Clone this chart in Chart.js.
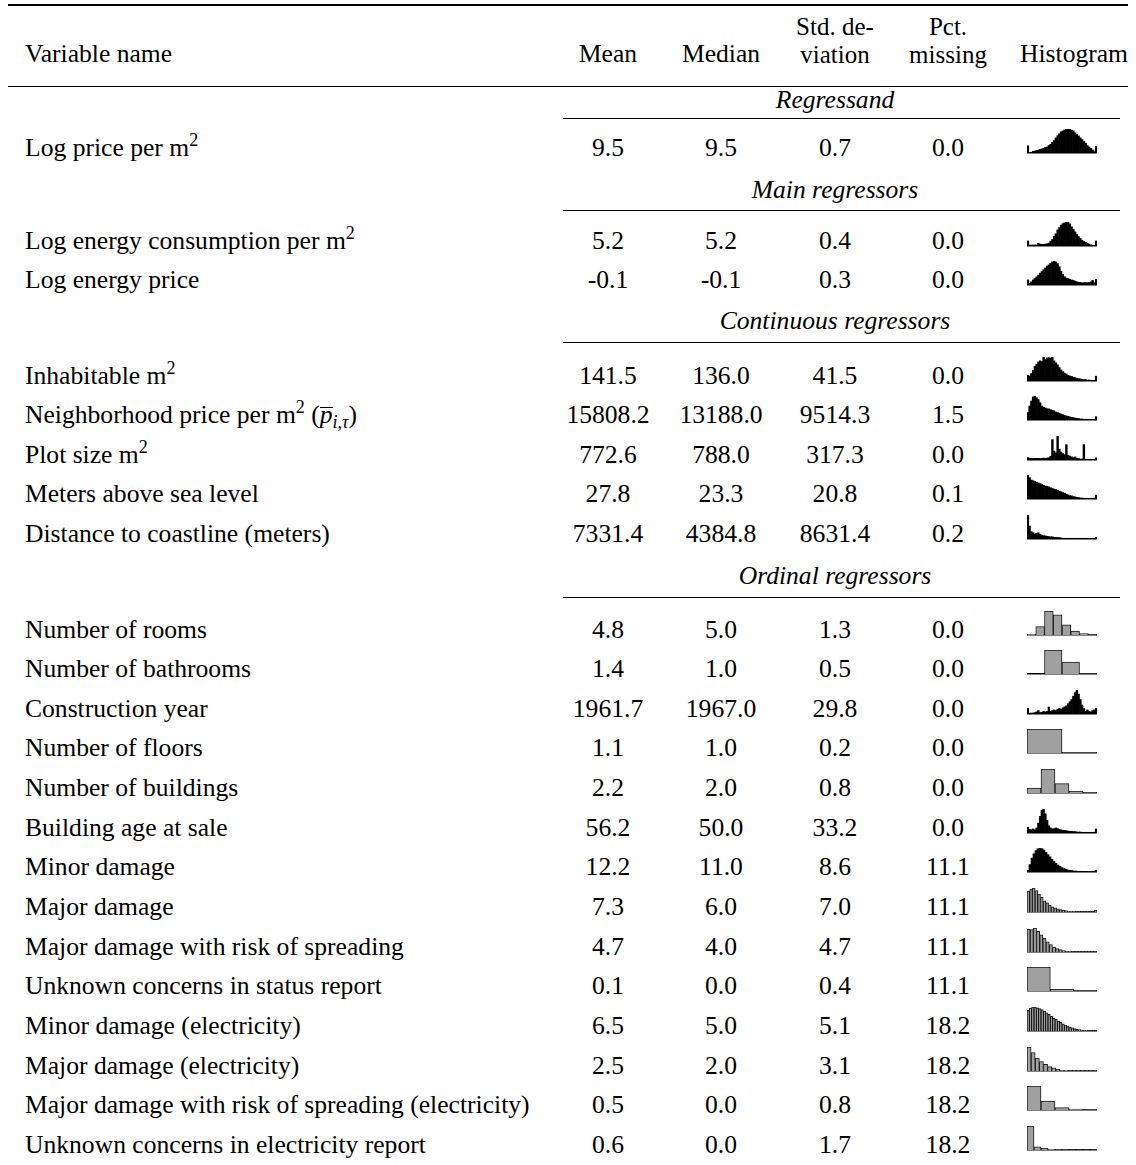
<!DOCTYPE html>
<html>
<head>
<meta charset="utf-8">
<script src="https://cdn.jsdelivr.net/npm/chart.js@4.4.0/dist/chart.umd.min.js"></script>
<style>
  body { margin: 0; background: #fff; width: 1136px; height: 1165px; overflow: hidden; position: relative;
         font-family: "Liberation Serif", "Times New Roman", serif; font-size: 25.6px; color: #000; }
  .t { position: absolute; line-height: 24px; white-space: nowrap; }
  .c { transform: translateX(-50%); text-align: center; }
  .two { line-height: 28px; font-size: 25px; }
  .grp { font-style: italic; }
  .rule { position: absolute; background: #000; }
  sup { font-size: 18px; vertical-align: 10px; line-height: 0; }
  .pbar { display: inline-block; font-style: italic; border-top: 1.3px solid #000; line-height: 14px; }
  .sub { font-size: 18px; font-style: italic; vertical-align: -5px; line-height: 0; }
</style>
</head>
<body>
<script>
// table content
const groupNames = ['Regressand', 'Main regressors', 'Continuous regressors', 'Ordinal regressors'];
const groupSizes = [1, 2, 5, 14];

const varNames = [
  'Log price per m<sup>2</sup>',
  'Log energy consumption per m<sup>2</sup>',
  'Log energy price',
  'Inhabitable m<sup>2</sup>',
  'Neighborhood price per m<sup>2</sup> (<span class="pbar">p</span><span class="sub">i,τ</span>)',
  'Plot size m<sup>2</sup>',
  'Meters above sea level',
  'Distance to coastline (meters)',
  'Number of rooms',
  'Number of bathrooms',
  'Construction year',
  'Number of floors',
  'Number of buildings',
  'Building age at sale',
  'Minor damage',
  'Major damage',
  'Major damage with risk of spreading',
  'Unknown concerns in status report',
  'Minor damage (electricity)',
  'Major damage (electricity)',
  'Major damage with risk of spreading (electricity)',
  'Unknown concerns in electricity report'
];
const means   = [9.5, 5.2, -0.1, 141.5, 15808.2, 772.6, 27.8, 7331.4, 4.8, 1.4, 1961.7, 1.1, 2.2, 56.2, 12.2, 7.3, 4.7, 0.1, 6.5, 2.5, 0.5, 0.6];
const medians = [9.5, 5.2, -0.1, 136.0, 13188.0, 788.0, 23.3, 4384.8, 5.0, 1.0, 1967.0, 1.0, 2.0, 50.0, 11.0, 6.0, 4.0, 0.0, 5.0, 2.0, 0.0, 0.0];
const stdDevs = [0.7, 0.4, 0.3, 41.5, 9514.3, 317.3, 20.8, 8631.4, 1.3, 0.5, 29.8, 0.2, 0.8, 33.2, 8.6, 7.0, 4.7, 0.4, 5.1, 3.1, 0.8, 1.7];
const pctMissing = [0.0, 0.0, 0.0, 0.0, 1.5, 0.0, 0.1, 0.2, 0.0, 0.0, 0.0, 0.0, 0.0, 0.0, 11.1, 11.1, 11.1, 11.1, 18.2, 18.2, 18.2, 18.2];

// histogram bin heights (% of tallest bin)
const histLogPrice = [30, 1, 3, 7, 8, 11, 12, 15, 17, 20, 23, 25, 31, 36, 45, 52, 63, 72, 80, 88, 92, 96, 99, 100, 99, 95, 92, 84, 77, 71, 63, 56, 48, 41, 31, 25, 19, 13, 6, 28];
const histLogEnergy = [21, 4, 4, 4, 4, 4, 11, 8, 7, 7, 8, 9, 12, 20, 27, 40, 51, 67, 77, 87, 93, 97, 100, 99, 92, 80, 69, 59, 48, 39, 31, 24, 19, 15, 12, 8, 5, 3, 1, 21];
const histEnergyPrice = [21, 7, 13, 21, 27, 34, 41, 49, 56, 64, 71, 79, 84, 90, 96, 100, 96, 89, 76, 57, 44, 34, 29, 27, 24, 21, 19, 16, 13, 11, 11, 9, 10, 10, 10, 10, 13, 19, 10, 24];
const histInhabitable = [24, 20, 31, 44, 61, 69, 79, 84, 81, 99, 89, 96, 97, 96, 100, 84, 76, 67, 56, 46, 39, 33, 29, 24, 21, 19, 16, 14, 11, 10, 9, 7, 6, 6, 4, 4, 3, 3, 3, 20];
const histNeighborhood = [31, 58, 79, 96, 100, 93, 85, 72, 58, 53, 50, 47, 46, 43, 40, 38, 33, 31, 28, 25, 22, 19, 17, 15, 13, 11, 10, 8, 7, 6, 4, 4, 3, 3, 3, 3, 3, 2, 2, 14];
const histPlotSize = [10, 7, 7, 6, 7, 7, 7, 6, 7, 8, 7, 8, 9, 15, 85, 37, 30, 100, 45, 33, 27, 22, 64, 19, 16, 13, 10, 13, 7, 6, 4, 4, 64, 3, 3, 3, 3, 3, 3, 9];
const histMeters = [100, 89, 79, 76, 73, 70, 67, 64, 60, 57, 54, 53, 50, 47, 44, 41, 39, 36, 33, 30, 27, 24, 20, 17, 14, 13, 10, 9, 7, 6, 4, 4, 3, 3, 3, 3, 3, 3, 3, 16];
const histCoast = [100, 54, 31, 26, 21, 23, 26, 20, 16, 14, 13, 11, 10, 9, 9, 7, 7, 6, 6, 4, 3, 3, 3, 3, 3, 3, 3, 3, 3, 3, 3, 3, 3, 3, 3, 3, 3, 3, 3, 7];
const histRooms = [3, 35, 100, 84, 42, 16, 6, 2];
const histBathrooms = [0, 100, 50, 1];
const histConstruction = [23, 3, 4, 4, 6, 9, 14, 6, 7, 11, 9, 11, 29, 11, 14, 17, 14, 19, 23, 20, 26, 29, 34, 43, 51, 60, 74, 89, 100, 83, 60, 37, 23, 11, 17, 11, 9, 14, 17, 23];
const histFloors = [100, 1.5];
const histBuildings = [21, 100, 39, 7, 1.5];
const histAge = [24, 15, 13, 17, 13, 21, 41, 69, 94, 100, 80, 52, 30, 21, 17, 18, 21, 18, 15, 13, 11, 11, 10, 8, 7, 7, 6, 6, 4, 4, 4, 3, 3, 3, 3, 3, 3, 3, 3, 17];
const histMinor = [7, 31, 58, 76, 89, 97, 100, 97, 92, 82, 72, 63, 53, 44, 36, 29, 24, 18, 14, 11, 8, 7, 6, 4, 4, 3, 3, 3, 1.5, 1.5, 1.5, 1.5, 1.5, 1.5, 7];
const histMajor = [86, 96, 100, 89, 75, 61, 47, 38, 29, 22, 17, 13, 10, 7, 6, 4, 3, 3, 2, 2, 1.5, 1.5, 1.5, 1.5, 1.5, 8];
const histMajorRisk = [96, 93, 100, 86, 72, 57, 42, 31, 21, 14, 10, 6, 4, 3, 2, 1.5, 1.5, 1.5, 1.5, 1.5, 1.5, 1.5];
const histUnknown = [100, 7, 1.5];
const histMinorEl = [86, 96, 100, 100, 97, 93, 89, 83, 76, 69, 61, 54, 49, 41, 36, 30, 24, 20, 16, 13, 10, 7, 6, 4, 3, 3, 2, 1.5, 1.5, 1.5];
const histMajorEl = [100, 77, 54, 39, 28, 18, 13, 8, 4, 3, 1.5, 1.5, 1.5, 1.5, 1.5, 1.5, 1.5];
const histMajorRiskEl = [100, 37, 10, 4, 1.5];
const histUnknownEl = [100, 13, 7, 3, 1.5, 1.5, 1, 1, 1, 1];

const histograms = [histLogPrice, histLogEnergy, histEnergyPrice, histInhabitable, histNeighborhood, histPlotSize,
  histMeters, histCoast, histRooms, histBathrooms, histConstruction, histFloors, histBuildings, histAge, histMinor,
  histMajor, histMajorRisk, histUnknown, histMinorEl, histMajorEl, histMajorRiskEl, histUnknownEl];
// fine-binned variables get solid black histograms, coarse counts get outlined grey bars
const denseHist = [true, true, true, true, true, true, true, true, false, false, true, false, false, true,
  true, false, false, false, false, false, false, false];

// layout (y of cap-height centre of text)
const groupLabelY = [100, 190, 321, 576];
const groupRuleY = [118, 210, 342, 597];
const firstRowY = [148, 241, 376, 630];
const rowStep = 39.65;
const colX = { mean: 608, median: 721, sd: 835, miss: 948, hist: 1074 };
const histLeft = 1027, histW = 70, histH = 24;

function addText(html, x, y, cls) {
  const d = document.createElement('div');
  d.className = 't ' + (cls || '');
  d.innerHTML = html;
  d.style.left = x + 'px';
  d.style.top = (y - 12.5) + 'px';
  document.body.appendChild(d);
}
function addRule(x1, x2, y, h) {
  const d = document.createElement('div');
  d.className = 'rule';
  d.style.cssText = `left:${x1}px;width:${x2 - x1}px;top:${y}px;height:${h}px`;
  document.body.appendChild(d);
}

// header
addRule(8, 1128, 4, 2);
addText('Variable name', 25, 54);
addText('Mean', colX.mean, 54, 'c');
addText('Median', colX.median, 54, 'c');
addText('Std. de-<br>viation', colX.sd, 25.4, 'c two');
addText('Pct.<br>missing', colX.miss, 25.4, 'c two');
addText('Histogram', colX.hist, 54, 'c');
addRule(8, 1128, 86, 1.3);

function drawHist(vals, dense, baseY) {
  const cv = document.createElement('canvas');
  cv.width = histW;
  cv.height = histH + 2;
  cv.style.cssText = `position:absolute;left:${histLeft}px;top:${baseY - histH}px;width:${histW}px;height:${histH + 2}px`;
  document.body.appendChild(cv);
  new Chart(cv, {
    type: 'bar',
    data: {
      labels: vals.map((v, k) => k),
      datasets: [{
        data: vals,
        backgroundColor: dense ? '#000' : '#a0a0a0',
        borderColor: '#1a1a1a',
        borderWidth: dense ? 0 : 1,
        barPercentage: 1,
        categoryPercentage: 1
      }]
    },
    options: {
      responsive: false,
      animation: false,
      devicePixelRatio: 1,
      events: [],
      layout: { padding: { bottom: 2 } },
      plugins: { legend: { display: false }, tooltip: { enabled: false } },
      scales: {
        x: {
          display: true,
          grid: { display: false, drawTicks: false },
          border: { display: true, color: '#000', width: 1.5 },
          ticks: { display: false }
        },
        y: { display: false, min: 0, max: 100 }
      }
    }
  });
}

let idx = 0;
groupNames.forEach((g, gi) => {
  addText(g, colX.sd, groupLabelY[gi], 'c grp');
  addRule(563, 1120, groupRuleY[gi], 1);
  for (let r = 0; r < groupSizes[gi]; r++, idx++) {
    const y = firstRowY[gi] + r * rowStep;
    addText(varNames[idx], 25, y);
    addText(means[idx].toFixed(1), colX.mean, y, 'c');
    addText(medians[idx].toFixed(1), colX.median, y, 'c');
    addText(stdDevs[idx].toFixed(1), colX.sd, y, 'c');
    addText(pctMissing[idx].toFixed(1), colX.miss, y, 'c');
    drawHist(histograms[idx], denseHist[idx], y + 4.5);
  }
});
</script>
</body>
</html>
